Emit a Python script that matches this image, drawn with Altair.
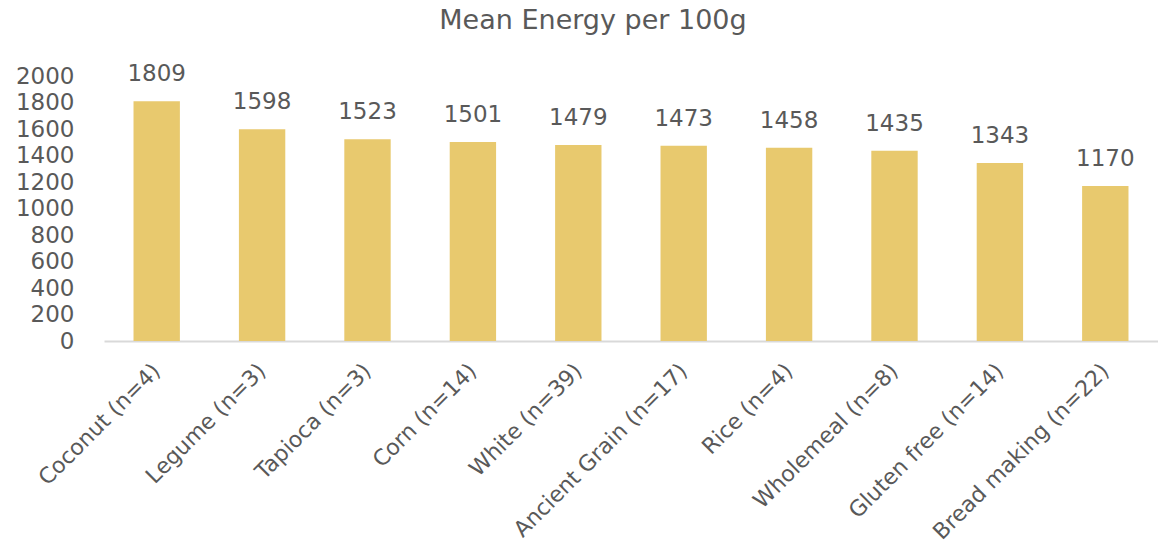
import altair as alt
import pandas as pd

categories = ["Coconut (n=4)", "Legume (n=3)", "Tapioca (n=3)", "Corn (n=14)", "White (n=39)",
              "Ancient Grain (n=17)", "Rice (n=4)", "Wholemeal (n=8)", "Gluten free (n=14)",
              "Bread making (n=22)"]
values = [1809, 1598, 1523, 1501, 1479, 1473, 1458, 1435, 1343, 1170]
y_ticks = [0, 200, 400, 600, 800, 1000, 1200, 1400, 1600, 1800, 2000]

df = pd.DataFrame({"cat": categories, "val": values})

FONT = "DejaVu Sans"
GRAY = "#595959"

x = alt.X("cat:N", sort=categories, title=None,
          scale=alt.Scale(paddingInner=0.56, paddingOuter=0.28),
          axis=alt.Axis(labelAngle=-45, labelAlign="right", labelBaseline="middle",
                        labelFontSize=22, labelColor=GRAY, labelFont=FONT,
                        ticks=False, domainColor="#D9D9D9", domainWidth=2,
                        labelPadding=26, labelLimit=400, labelOverlap=False))
y = alt.Y("val:Q", title=None,
          scale=alt.Scale(domain=[0, 2000], nice=False),
          axis=alt.Axis(values=y_ticks, grid=False, domain=False, ticks=False,
                        format="d", labelOverlap=False, labelFlush=False,
                        labelFontSize=23, labelColor=GRAY, labelFont=FONT, labelPadding=30))

base = alt.Chart(df).encode(x=x, y=y)
bars = base.mark_bar(color="#E8C96E")
text = base.mark_text(dy=-27, fontSize=23, color=GRAY, font=FONT).encode(text="val:Q")

chart = (bars + text).properties(
    width=1054, height=265,
    title=alt.TitleParams("Mean Energy per 100g", fontSize=27, font=FONT, color=GRAY,
                          fontWeight="normal", anchor="middle", offset=28, dx=-38),
    autosize=alt.AutoSizeParams(type="none"),
    padding={"left": 104, "top": 76, "right": 0, "bottom": 208},
).configure_view(stroke=None)

chart.save("out.html", embed_options={"renderer": "svg", "actions": False})
